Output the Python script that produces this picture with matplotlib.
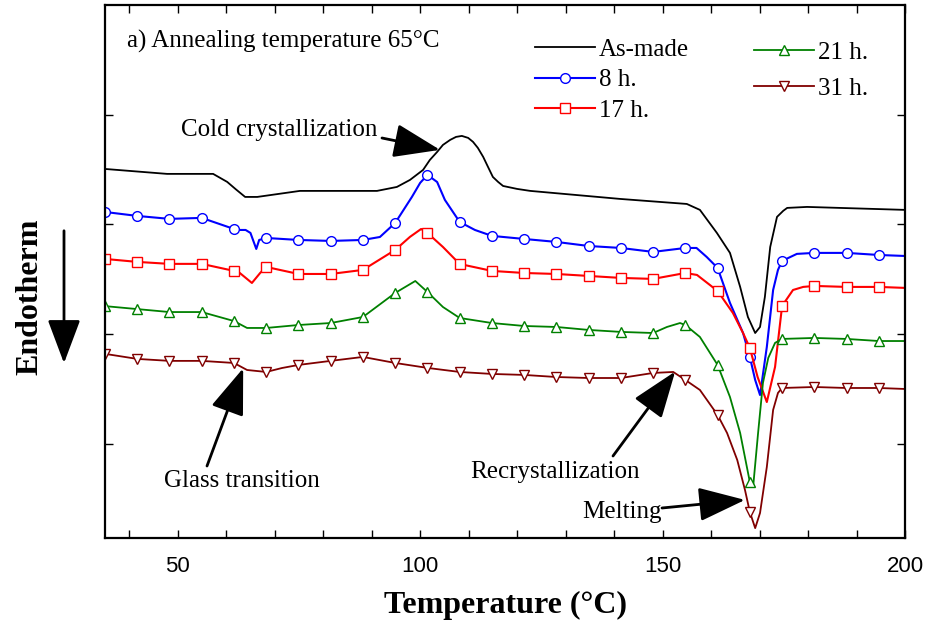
import numpy as np
import matplotlib
matplotlib.use("Agg")
import matplotlib.pyplot as plt
from matplotlib.patches import FancyArrowPatch
from matplotlib.ticker import MultipleLocator, FixedLocator, NullFormatter

# Temperatures at which the curve symbols sit (same for every annealed sample)
MARKER_T = [35.0, 41.65, 48.3, 54.95, 61.6, 68.25, 74.9, 81.55, 88.2, 94.85,
            101.5, 108.15, 114.8, 121.45, 128.1, 134.75, 141.4, 148.05, 154.7,
            161.35, 168.0, 174.65, 181.3, 187.95, 194.6]

# As-made sample
T_ASMADE = [35, 47.8, 57.3, 60.2, 62.0, 63.9, 66.4, 75.2, 91.1, 95.2, 97.9, 100.6,
            102.0, 103.5, 104.7, 106.2, 107.4, 108.6, 109.9, 110.9, 111.9, 113.0,
            114.0, 115.0, 116.1, 117.1, 120.0, 122.7, 141.2, 155.0, 157.7, 161.2,
            163.9, 166.0, 167.6, 169.1, 170.1, 171.1, 172.2, 173.6, 174.9, 175.7,
            179.8, 200]
HF_ASMADE = [3.506, 3.461, 3.461, 3.388, 3.320, 3.251, 3.251, 3.306, 3.306, 3.342,
             3.406, 3.497, 3.588, 3.661, 3.725, 3.771, 3.798, 3.807, 3.789, 3.753,
             3.698, 3.616, 3.524, 3.433, 3.387, 3.351, 3.324, 3.306, 3.233, 3.187,
             3.133, 2.923, 2.741, 2.431, 2.157, 2.011, 2.066, 2.340, 2.795, 3.069,
             3.125, 3.151, 3.160, 3.133]

# Annealed 8 h
T_8H = [35, 41.65, 48.3, 54.95, 61.6, 62.9, 64.0, 65.0, 66.2, 66.8, 68.25, 74.9,
        81.55, 88.2, 91.7, 94.85, 98.3, 100.0, 101.5, 103.5, 105.1, 108.15, 111.3,
        114.8, 121.45, 128.1, 134.75, 141.4, 148.05, 154.7, 157.0, 159.1, 161.35,
        163.9, 166.6, 168.0, 169.1, 170.1, 171.5, 172.8, 173.8, 174.65, 177.7,
        181.3, 187.95, 194.6, 200]
HF_8H = [3.114, 3.078, 3.051, 3.060, 2.959, 2.950, 2.950, 2.923, 2.777, 2.859, 2.877,
         2.859, 2.850, 2.859, 2.886, 3.014, 3.251, 3.379, 3.452, 3.387, 3.224, 3.023,
         2.950, 2.896, 2.868, 2.841, 2.804, 2.786, 2.750, 2.786, 2.786, 2.704, 2.604,
         2.285, 2.011, 1.793, 1.583, 1.446, 1.884, 2.403, 2.586, 2.668, 2.732, 2.741,
         2.741, 2.722, 2.713]

# Annealed 17 h
T_17H = [35, 41.65, 48.3, 54.95, 61.6, 62.8, 65.3, 67.0, 68.25, 74.9, 81.55, 88.2,
         94.85, 97.9, 100.2, 101.5, 104.7, 108.15, 114.8, 121.45, 128.1, 134.75,
         141.4, 148.05, 154.7, 157.1, 161.35, 164.5, 166.6, 168.0, 169.6, 171.5,
         173.2, 174.65, 176.9, 179.0, 181.3, 187.95, 194.6, 200]
HF_17H = [2.686, 2.659, 2.641, 2.641, 2.577, 2.558, 2.467, 2.558, 2.613, 2.549, 2.549,
          2.586, 2.768, 2.887, 2.959, 2.923, 2.795, 2.640, 2.577, 2.558, 2.549, 2.531,
          2.513, 2.504, 2.558, 2.540, 2.394, 2.194, 2.011, 1.875, 1.610, 1.382, 1.702,
          2.258, 2.403, 2.431, 2.440, 2.431, 2.431, 2.422]

# Annealed 21 h
T_21H = [35, 41.65, 48.3, 54.95, 61.6, 64.3, 68.25, 74.9, 81.55, 88.2, 94.85, 99.0,
         101.5, 104.7, 108.15, 114.8, 121.45, 128.1, 134.75, 141.4, 148.05, 150.9,
         153.6, 154.7, 157.7, 161.35, 163.9, 166.0, 168.0, 168.7, 169.7, 170.7, 171.8,
         173.2, 174.65, 181.3, 187.95, 194.6, 200]
HF_21H = [2.256, 2.229, 2.202, 2.202, 2.120, 2.057, 2.057, 2.084, 2.102, 2.157, 2.376,
          2.485, 2.385, 2.248, 2.148, 2.102, 2.075, 2.066, 2.039, 2.021, 2.011, 2.066,
          2.102, 2.084, 1.975, 1.720, 1.428, 1.100, 0.653, 0.620, 1.100, 1.556, 1.784,
          1.921, 1.957, 1.966, 1.957, 1.938, 1.938]

# Annealed 31 h
T_31H = [35, 41.65, 48.3, 54.95, 61.6, 64.3, 68.25, 71.5, 74.9, 81.55, 88.2, 94.85,
         101.5, 108.15, 114.8, 121.45, 128.1, 134.75, 141.4, 148.05, 152.2, 154.7,
         157.7, 161.35, 163.3, 165.4, 167.0, 168.0, 169.1, 170.1, 171.5, 172.8, 173.8,
         174.65, 181.3, 187.95, 194.6, 200]
HF_31H = [1.821, 1.775, 1.757, 1.757, 1.738, 1.674, 1.656, 1.692, 1.720, 1.757, 1.793,
          1.738, 1.693, 1.656, 1.638, 1.629, 1.610, 1.601, 1.601, 1.647, 1.656, 1.583,
          1.492, 1.264, 1.100, 0.854, 0.580, 0.380, 0.233, 0.371, 0.790, 1.310, 1.465,
          1.510, 1.519, 1.510, 1.510, 1.501]

SERIF = "Liberation Serif"
SANS = "Liberation Sans"


def marker_indices(temps):
    t = np.asarray(temps, dtype=float)
    return [i for i, v in enumerate(t) if np.any(np.isclose(v, MARKER_T, atol=0.02))]


fig = plt.figure(figsize=(9.3, 6.24), dpi=100)
ax = fig.add_axes([105 / 930, 1 - 538 / 624, 800 / 930, 533 / 624])

(h_asmade,) = ax.plot(T_ASMADE, HF_ASMADE, color="black", lw=1.3, label="As-made")

series = [
    (T_8H, HF_8H, "#0000ff", "o", "8 h.", 1.5),
    (T_17H, HF_17H, "#ff0000", "s", "17 h.", 1.5),
    (T_21H, HF_21H, "#008000", "^", "21 h.", 1.3),
    (T_31H, HF_31H, "#800000", "v", "31 h.", 1.3),
]
handles = {"As-made": h_asmade}
for t, hf, col, mk, lab, lw in series:
    (h,) = ax.plot(t, hf, color=col, lw=lw, marker=mk, markersize=7,
                   markerfacecolor="white", markeredgecolor=col, markeredgewidth=1.0,
                   markevery=marker_indices(t), label=lab)
    handles[lab] = h

ax.set_xlim(35, 200)
ax.set_ylim(0.143, 5.0)

ax.xaxis.set_major_locator(FixedLocator([50, 100, 150, 200]))
ax.xaxis.set_minor_locator(MultipleLocator(10))
ax.yaxis.set_major_locator(FixedLocator([1, 2, 3, 4]))
ax.yaxis.set_major_formatter(NullFormatter())
ax.tick_params(which="both", direction="in", top=True, right=True,
               length=6, width=1.0, labelsize=16, pad=13)
for lab in ax.get_xticklabels():
    lab.set_fontfamily(SANS)
for sp in ax.spines.values():
    sp.set_linewidth(1.6)

ax.set_xlabel("Temperature (\u00b0C)", fontsize=23, fontweight="bold",
              fontfamily=SERIF, labelpad=10)

# Endotherm direction label and arrow
fig.text(30 / 930, 1 - 297 / 624, "Endotherm", rotation=90, fontsize=23,
         fontweight="bold", fontfamily=SERIF, ha="center", va="center")
fig.add_artist(FancyArrowPatch(
    (64 / 930, 1 - 228 / 624), (64 / 930, 1 - 366 / 624),
    transform=fig.transFigure, arrowstyle="-|>,head_length=1.6,head_width=0.6",
    mutation_scale=17, color="black", lw=2.0))

# Legends
leg_font = {"family": SERIF, "size": 18}
leg1 = ax.legend(handles=[handles["As-made"], handles["8 h."], handles["17 h."]],
                 loc="upper left", bbox_to_anchor=(0.5375, 0.938), frameon=False,
                 prop=leg_font, handlelength=2.4, handletextpad=0.15,
                 labelspacing=0.33, borderpad=0, borderaxespad=0)
ax.add_artist(leg1)
ax.legend(handles=[handles["21 h."], handles["31 h."]],
          loc="upper left", bbox_to_anchor=(0.811, 0.932), frameon=False,
          prop=leg_font, handlelength=2.4, handletextpad=0.15,
          labelspacing=0.55, borderpad=0, borderaxespad=0)

ax.text((127 - 105) / 800, (538 - 41) / 533, "a) Annealing temperature 65\u00b0C",
        transform=ax.transAxes, fontsize=18, fontfamily=SERIF, ha="left", va="center")


def ax_frac(px, py):
    return ((px - 105) / 800, (538 - py) / 533)


arrow_style = dict(arrowstyle="-|>,head_length=1.7,head_width=0.62",
                   mutation_scale=17, color="black", lw=2.0,
                   shrinkA=0, shrinkB=0)

notes = [
    ("Cold crystallization", (279, 130), (382, 138), (104.1, 3.68)),
    ("Glass transition", (242, 481), (207, 466), (63.5, 1.69)),
    ("Recrystallization", (555, 472), (613, 456), (152.6, 1.66)),
    ("Melting", (622, 512), (662, 508), (167.0, 0.49)),
]
for label, tpos, start, tip in notes:
    ax.text(*ax_frac(*tpos), label, transform=ax.transAxes, fontsize=18,
            fontfamily=SERIF, ha="center", va="center")
    ax.annotate("", xy=tip, xycoords="data", xytext=ax_frac(*start),
                textcoords="axes fraction", arrowprops=arrow_style)

fig.savefig("out.png", dpi=100)
